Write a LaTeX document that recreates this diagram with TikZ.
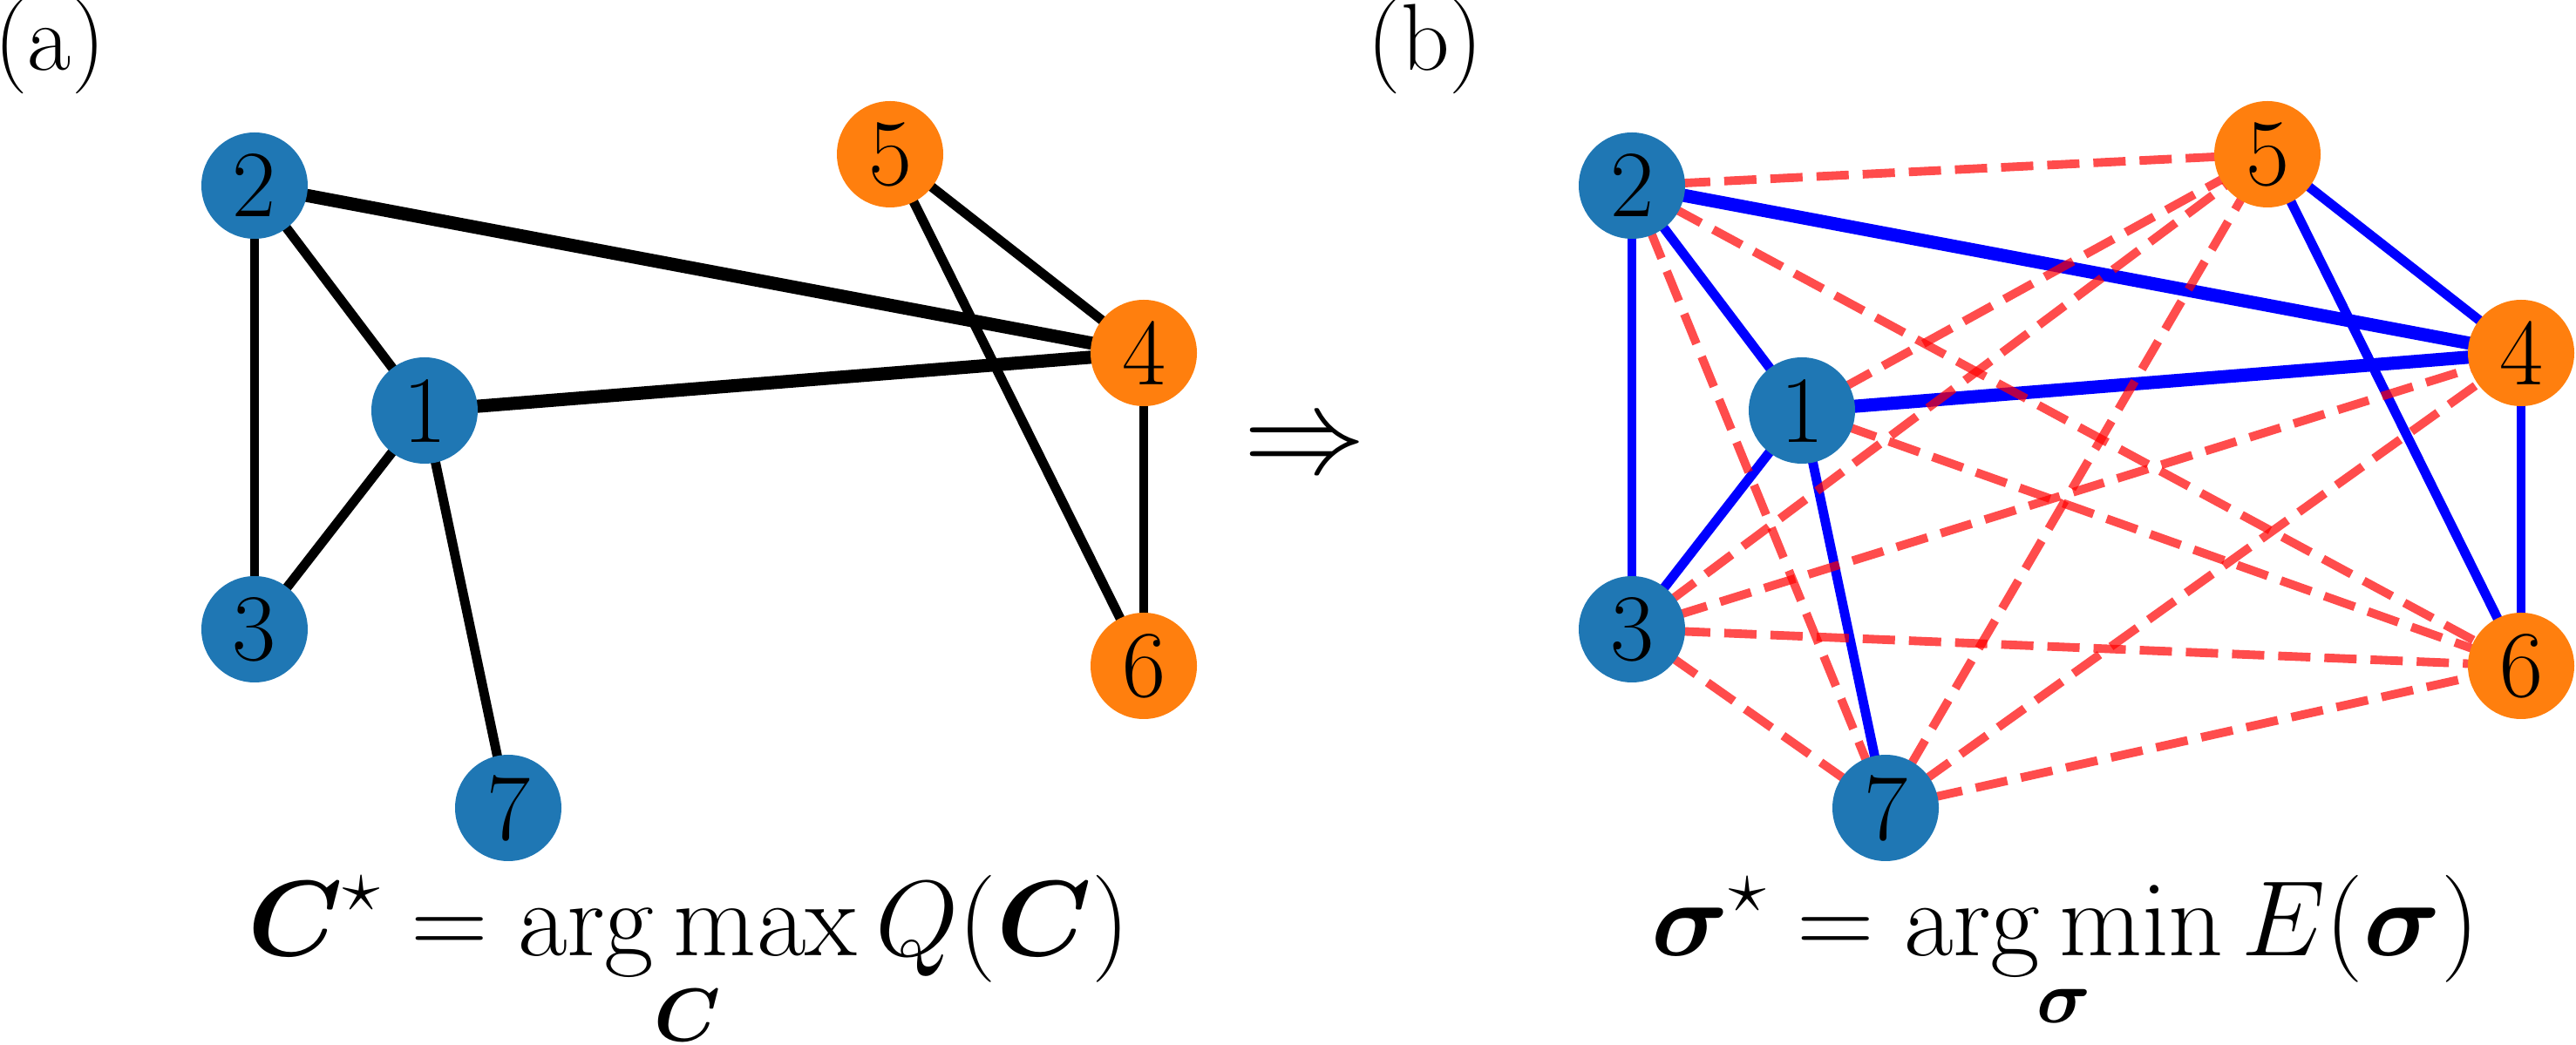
\RequirePackage{fix-cm}
\documentclass[tikz,border=0pt]{standalone}
\usepackage{amsmath}
\usetikzlibrary{backgrounds}

\definecolor{vblue}{RGB}{31,119,180}
\definecolor{vorange}{RGB}{255,127,14}

\begin{document}
\begin{tikzpicture}[
	vertex/.style={circle,inner sep=0pt,minimum size=1.22cm,font=\fontsize{31}{36}\selectfont},
	bluev/.style={vertex,fill=vblue},
	orangev/.style={vertex,fill=vorange},
	link/.style={line width=3.1pt},
	heavy/.style={line width=4.3pt},
	cut/.style={line width=2.8pt,red,opacity=0.7,dash pattern=on 0.37cm off 0.16cm},
	formula/.style={anchor=base,font=\fontsize{35}{42}\selectfont}
	]
	\useasboundingbox (0,0) rectangle (29.55,-11.99);

	% Panel labels
	\node[font=\fontsize{31}{36}\selectfont] (la) at (0.57,-0.53) {(a)};
	\node[font=\fontsize{31}{36}\selectfont] (lb) at (16.35,-0.53) {(b)};

	% Communities (a)
	\node[bluev] (a1) at (4.87,-4.71) {1};
	\node[bluev] (a2) at (2.92,-2.13) {2};
	\node[bluev] (a3) at (2.92,-7.22) {3};
	\node[orangev] (a4) at (13.12,-4.05) {4};
	\node[orangev] (a5) at (10.21,-1.77) {5};
	\node[orangev] (a6) at (13.12,-7.64) {6};
	\node[bluev] (a7) at (5.83,-9.27) {7};

	% Spins (b)
	\node[bluev] (b1) at (20.67,-4.71) {1};
	\node[bluev] (b2) at (18.72,-2.13) {2};
	\node[bluev] (b3) at (18.72,-7.22) {3};
	\node[orangev] (b4) at (28.92,-4.05) {4};
	\node[orangev] (b5) at (26.01,-1.77) {5};
	\node[orangev] (b6) at (28.92,-7.64) {6};
	\node[bluev] (b7) at (21.63,-9.27) {7};

	\begin{pgfonlayer}{background}
	% Graph edges (a)
	\draw[link] (a2.center) -- (a1.center);
	\draw[link] (a2.center) -- (a3.center);
	\draw[heavy] (a2.center) -- (a4.center);
	\draw[link] (a1.center) -- (a3.center);
	\draw[heavy] (a1.center) -- (a4.center);
	\draw[link] (a1.center) -- (a7.center);
	\draw[link] (a5.center) -- (a4.center);
	\draw[link] (a5.center) -- (a6.center);
	\draw[link] (a4.center) -- (a6.center);

	% Ferromagnetic couplings (b)
	\draw[link,blue] (b2.center) -- (b1.center);
	\draw[link,blue] (b2.center) -- (b3.center);
	\draw[heavy,blue] (b2.center) -- (b4.center);
	\draw[link,blue] (b1.center) -- (b3.center);
	\draw[heavy,blue] (b1.center) -- (b4.center);
	\draw[link,blue] (b1.center) -- (b7.center);
	\draw[link,blue] (b5.center) -- (b4.center);
	\draw[link,blue] (b5.center) -- (b6.center);
	\draw[link,blue] (b4.center) -- (b6.center);

	% Antiferromagnetic couplings (b)
	\draw[cut] (b1.center) -- (b5.center);
	\draw[cut] (b1.center) -- (b6.center);
	\draw[cut] (b2.center) -- (b5.center);
	\draw[cut] (b2.center) -- (b6.center);
	\draw[cut] (b2.center) -- (b7.center);
	\draw[cut] (b3.center) -- (b4.center);
	\draw[cut] (b3.center) -- (b5.center);
	\draw[cut] (b3.center) -- (b6.center);
	\draw[cut] (b3.center) -- (b7.center);
	\draw[cut] (b7.center) -- (b4.center);
	\draw[cut] (b7.center) -- (b5.center);
	\draw[cut] (b7.center) -- (b6.center);
	\end{pgfonlayer}

	% Arrow
	\node[font=\fontsize{40}{48}\selectfont] (arr) at (14.97,-5.17) {$\Rightarrow$};

	% Objectives
	\node[formula] (qa) at (7.90,-10.97) {$\displaystyle \boldsymbol{C}^\star = \operatorname*{arg\,max}_{\boldsymbol{C}} Q(\boldsymbol{C})$};
	\node[formula] (eb) at (23.69,-10.97) {$\displaystyle \boldsymbol{\sigma}^\star = \operatorname*{arg\,min}_{\boldsymbol{\sigma}} E(\boldsymbol{\sigma})$};

\end{tikzpicture}
\end{document}
